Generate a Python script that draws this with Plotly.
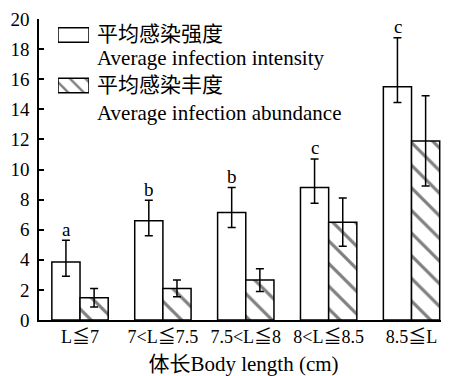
import plotly.graph_objects as go

categories = ["L≦7", "7<L≦7.5", "7.5<L≦8", "8<L≦8.5", "8.5≦L"]
intensity = [3.85, 6.6, 7.15, 8.8, 15.5]
intensity_err_up = [1.45, 1.35, 1.65, 1.9, 3.25]
intensity_err_down = [0.95, 1.0, 1.0, 1.05, 1.05]
abundance = [1.48, 2.1, 2.65, 6.5, 11.9]
abundance_err = [0.62, 0.55, 0.75, 1.6, 3.0]
letters = ["a", "b", "b", "c", "c"]
legend_cn = ["平均感染强度", "平均感染丰度"]
legend_en = ["Average infection intensity", "Average infection abundance"]

FONT = "Liberation Serif, Times New Roman, Noto Sans CJK SC, serif"
OFF = 8  # page body margin
W, H = 449 - OFF, 376 - OFF
ML, MR, MT, MB = 39 - OFF, 1, 19 - OFF, 56
PW, PH = W - ML - MR, H - MT - MB

def px_x(p):
    return (p - OFF - ML) / PW

def px_y(p):
    return (H - MB - (p - OFF)) / PH

fig = go.Figure()
fig.add_trace(go.Bar(
    x=categories, y=intensity, name=legend_cn[0],
    marker=dict(color="white", line=dict(color="black", width=1.5)),
    error_y=dict(type="data", array=intensity_err_up, arrayminus=intensity_err_down,
                 symmetric=False, color="black", thickness=1.5, width=4),
    showlegend=False,
))
fig.add_trace(go.Bar(
    x=categories, y=abundance, name=legend_cn[1],
    marker=dict(color="white", line=dict(color="black", width=1.5),
                pattern=dict(shape="\\", fgcolor="black", bgcolor="white", size=16, solidity=0.2)),
    error_y=dict(type="data", array=abundance_err, color="black", thickness=1.5, width=4),
    showlegend=False,
))

# legend swatches on a hidden secondary axis (y in pixel units)
sw_y = [34.9, 85.5]
fig.add_trace(go.Bar(
    x=[1, 1], y=sw_y, orientation="h", width=[14.5, 14.5], base=0,
    xaxis="x2", yaxis="y2", showlegend=False, hoverinfo="skip",
    marker=dict(color="white", line=dict(color="black", width=1.5),
                pattern=dict(shape=["", "\\"], fgcolor="black", bgcolor="white", size=11, solidity=0.22)),
))

annotations = []
for i, c in enumerate(categories):
    annotations.append(dict(x=c, y=intensity[i] + intensity_err_up[i], xref="x", yref="y",
                            text=letters[i], showarrow=False, yanchor="middle", yshift=11,
                            xshift=-14,
                            font=dict(family=FONT, size=19, color="black")))
legend_rows = [(legend_cn[0], 34.5), (legend_en[0], 57.5), (legend_cn[1], 85.5), (legend_en[1], 112.5)]
for txt, yp in legend_rows:
    annotations.append(dict(x=px_x(95), y=px_y(yp), xref="paper", yref="paper", text=txt,
                            showarrow=False, xanchor="left", yanchor="middle",
                            font=dict(family=FONT, size=21, color="black")))

fig.update_layout(
    width=W, height=H,
    margin=dict(l=ML, r=MR, t=MT, b=MB, autoexpand=False),
    paper_bgcolor="white", plot_bgcolor="white",
    barmode="group", bargap=0.32, bargroupgap=0,
    font=dict(family=FONT, size=18, color="black"),
    xaxis=dict(range=[-0.495, 4.44], showline=True, linecolor="black", linewidth=1.5,
               ticks="", showgrid=False, zeroline=False, automargin=False,
               tickfont=dict(family=FONT, size=18),
               title=dict(text="体长Body length (cm)", font=dict(family=FONT, size=21), standoff=15)),
    yaxis=dict(range=[0, 20], dtick=2, showline=True, linecolor="black", linewidth=1.5,
               ticks="inside", ticklen=5, tickwidth=1.5, tickcolor="black", automargin=False,
               ticklabelstandoff=4,
               showgrid=False, zeroline=False, tickfont=dict(family=FONT, size=19)),
    xaxis2=dict(domain=[px_x(58), px_x(89)], range=[0, 1], visible=False, fixedrange=True),
    yaxis2=dict(domain=[px_y(100), px_y(20)], range=[100, 20], visible=False, fixedrange=True,
                anchor="x2"),
    annotations=annotations,
)
fig.write_html("out.html")
